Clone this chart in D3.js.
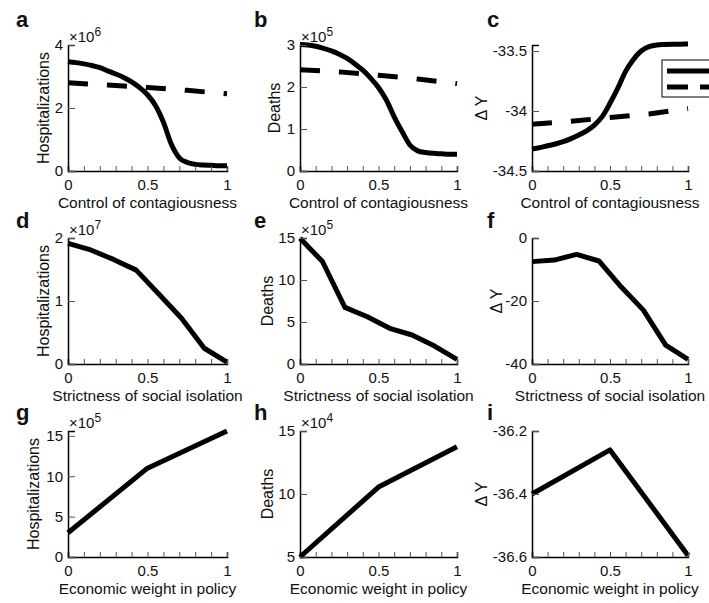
<!DOCTYPE html>
<html>
<head>
<meta charset="utf-8">
<script src="https://cdn.jsdelivr.net/npm/d3@7"></script>
<style>
  body { margin: 0; background: #fff; }
  svg text { font-family: "Liberation Sans", Arial, sans-serif; fill: #111; }
  .tick line { stroke: #555; }
</style>
</head>
<body>
<svg id="chart" width="709" height="603"></svg>
<script>
// x grids
const xCont = [0, 0.05, 0.1, 0.15, 0.2, 0.25, 0.3, 0.35, 0.4, 0.45, 0.5, 0.55, 0.6, 0.65, 0.7, 0.75, 0.8, 0.85, 0.9, 0.95, 1];
const xContDash = [0, 0.25, 0.5, 0.75, 1];
const xIso = [0, 0.143, 0.286, 0.429, 0.571, 0.714, 0.857, 1];
const xEcon = [0, 0.5, 1];

// row 1: control of contagiousness
const hospContSolid = [3.47, 3.44, 3.40, 3.35, 3.28, 3.18, 3.08, 2.97, 2.83, 2.65, 2.42, 2.08, 1.55, 0.85, 0.42, 0.27, 0.21, 0.19, 0.18, 0.17, 0.17];
const hospContDash = [2.80, 2.73, 2.65, 2.56, 2.45];
const deathContSolid = [3.01, 3.00, 2.97, 2.92, 2.86, 2.78, 2.68, 2.55, 2.40, 2.21, 1.99, 1.69, 1.29, 0.94, 0.62, 0.48, 0.44, 0.42, 0.41, 0.40, 0.40];
const deathContDash = [2.41, 2.36, 2.28, 2.19, 2.08];
const dyContSolid = [-34.317, -34.305, -34.29, -34.275, -34.256, -34.23, -34.2, -34.165, -34.117, -34.047, -33.936, -33.81, -33.67, -33.57, -33.5, -33.464, -33.45, -33.446, -33.444, -33.443, -33.442];
const dyContDash = [-34.11, -34.085, -34.055, -34.025, -33.98];

// row 2: strictness of social isolation
const hospIso = [1.915, 1.81, 1.66, 1.49, 1.11, 0.725, 0.25, 0.03];
const deathIso = [14.96, 12.2, 6.74, 5.63, 4.25, 3.45, 2.14, 0.55];
const dyIso = [-7.5, -7.0, -5.2, -7.3, -15.5, -22.9, -34.0, -38.5];

// row 3: economic weight in policy
const hospEcon = [3.0, 11.0, 15.6];
const deathEcon = [5.0, 10.55, 13.75];
const dyEcon = [-36.4, -36.26, -36.595];

const xTickLabels = [0, 0.5, 1];
const xMinorTicks = [0, 0.1, 0.2, 0.3, 0.4, 0.5, 0.6, 0.7, 0.8, 0.9, 1];
const xLabels = ["Control of contagiousness", "Strictness of social isolation", "Economic weight in policy"];
const letters = ["a", "b", "c", "d", "e", "f", "g", "h", "i"];

const colX = [68, 300, 532];
const colW = [159, 157, 156];
const rowY = [45, 238, 431];
const plotH = 126;
const letterX = [16, 254, 487];
const letterY = [27, 228, 420];

const panels = [
  { ylab: "Hospitalizations", dom: [0, 4], ticks: [0, 2, 4], exp: "6", off: 19,
    series: [{ x: xCont, y: hospContSolid, smooth: true }, { x: xContDash, y: hospContDash, dash: true }] },
  { ylab: "Deaths", dom: [0, 3], ticks: [0, 1, 2, 3], exp: "5", off: 20,
    series: [{ x: xCont, y: deathContSolid, smooth: true }, { x: xContDash, y: deathContDash, dash: true }] },
  { ylab: "\u0394 Y", dom: [-34.5, -33.45], ticks: [-34.5, -34, -33.5], off: 45,
    series: [{ x: xCont, y: dyContSolid, smooth: true }, { x: xContDash, y: dyContDash, dash: true }] },
  { ylab: "Hospitalizations", dom: [0, 2], ticks: [0, 1, 2], exp: "7", off: 19,
    series: [{ x: xIso, y: hospIso }] },
  { ylab: "Deaths", dom: [0, 15], ticks: [0, 5, 10, 15], exp: "5", off: 27,
    series: [{ x: xIso, y: deathIso }] },
  { ylab: "\u0394 Y", dom: [-40, 0], ticks: [-40, -20, 0], off: 30,
    series: [{ x: xIso, y: dyIso }] },
  { ylab: "Hospitalizations", dom: [0, 15.6], ticks: [0, 5, 10, 15], exp: "5", off: 29,
    series: [{ x: xEcon, y: hospEcon }] },
  { ylab: "Deaths", dom: [5, 15], ticks: [5, 10, 15], exp: "4", off: 27,
    series: [{ x: xEcon, y: deathEcon }] },
  { ylab: "\u0394 Y", dom: [-36.6, -36.2], ticks: [-36.6, -36.4, -36.2], off: 45,
    series: [{ x: xEcon, y: dyEcon }] }
];

const svg = d3.select("#chart");

panels.forEach((p, i) => {
  const r = Math.floor(i / 3), c = i % 3;
  const x0 = colX[c], y0 = rowY[r], w = colW[c];

  const xScale = d3.scaleLinear().domain([0, 1]).range([x0, x0 + w]);
  const yScale = d3.scaleLinear().domain(p.dom).range([y0 + plotH, y0]);

  const g = svg.append("g");

  // lines
  for (let s of p.series) {
    const line = d3.line()
      .x((d, k) => xScale(s.x[k]))
      .y(d => yScale(d))
      .curve(s.smooth ? d3.curveMonotoneX : d3.curveLinear);
    g.append("path")
      .attr("d", line(s.y))
      .attr("fill", "none")
      .attr("stroke", "#000")
      .attr("stroke-width", 5)
      .attr("stroke-linejoin", "round")
      .attr("stroke-dasharray", s.dash ? "20,19" : null);
  }

  // x axis with inward minor ticks
  const xAxis = d3.axisBottom(xScale).tickValues(xMinorTicks).tickSize(-5)
    .tickFormat(d => xTickLabels.includes(d) ? d3.format("~g")(d) : "");
  const gx = g.append("g")
    .attr("transform", `translate(0,${y0 + plotH})`)
    .call(xAxis);
  gx.select(".domain").attr("stroke", "#000").attr("stroke-width", 1.5);
  gx.selectAll("text").attr("y", 19).attr("dy", null).style("font-size", "15px");

  // y axis
  const yAxis = d3.axisLeft(yScale).tickValues(p.ticks).tickSize(-7).tickFormat(d => String(d));
  const gy = g.append("g")
    .attr("transform", `translate(${x0},0)`)
    .call(yAxis);
  gy.select(".domain").attr("stroke", "#000").attr("stroke-width", 1.5);
  gy.selectAll("text").attr("x", -5).style("font-size", "15px");

  // exponent label
  if (p.exp) {
    const t = g.append("text")
      .attr("x", x0 + 1)
      .attr("y", y0 - 3)
      .style("font-size", "15px");
    t.append("tspan").text("\u00d710");
    t.append("tspan").attr("dy", -6).style("font-size", "12px").text(p.exp);
  }

  // y label
  g.append("text")
    .attr("transform", `translate(${x0 - p.off},${y0 + plotH / 2}) rotate(-90)`)
    .attr("text-anchor", "middle")
    .style("font-size", "16px")
    .text(p.ylab);

  // x label
  g.append("text")
    .attr("x", x0 + w / 2)
    .attr("y", y0 + plotH + 37)
    .attr("text-anchor", "middle")
    .style("font-size", "15.5px")
    .text(xLabels[r]);

  // panel letter
  g.append("text")
    .attr("x", letterX[c])
    .attr("y", letterY[r])
    .style("font-size", "22px")
    .style("font-weight", "bold")
    .text(letters[i]);
});

// legend of panel c (cut off at the right edge)
const leg = svg.append("g");
leg.append("rect")
  .attr("x", 662).attr("y", 60).attr("width", 80).attr("height", 37)
  .attr("fill", "#fff").attr("stroke", "#000").attr("stroke-width", 1);
leg.append("path").attr("d", "M667,71 L730,71")
  .attr("stroke", "#000").attr("stroke-width", 5);
leg.append("path").attr("d", "M667,87 L730,87")
  .attr("stroke", "#000").attr("stroke-width", 5).attr("stroke-dasharray", "21,12");
</script>
</body>
</html>
